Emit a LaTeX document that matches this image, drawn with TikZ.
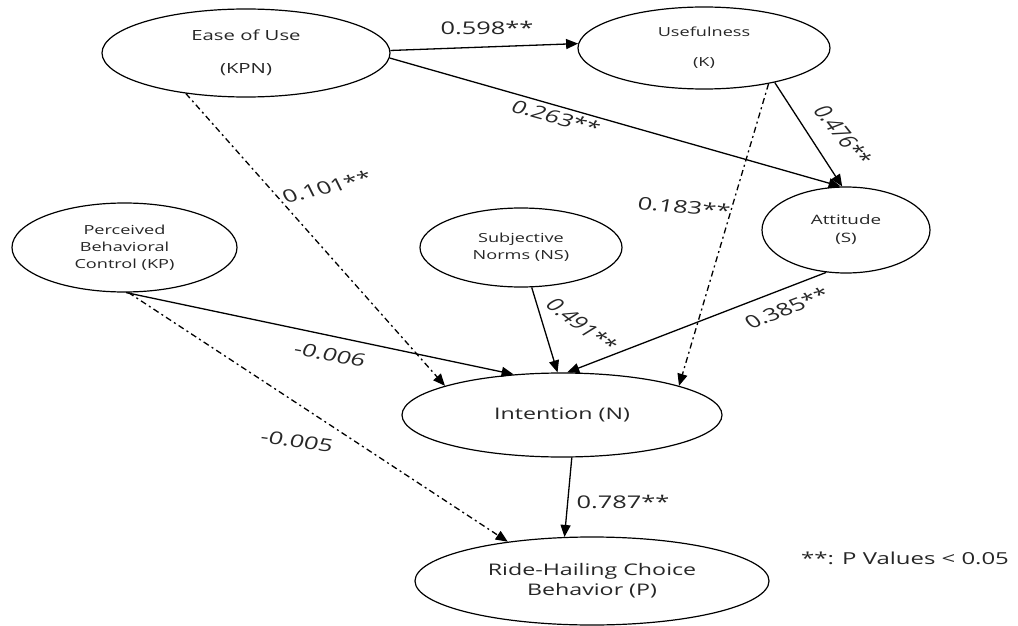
\documentclass[tikz,border=0pt]{standalone}
\usepackage{fontspec}
\setmainfont{Open Sans}[FakeStretch=1.45]
\newfontfamily\coeffont{Open Sans}
\usetikzlibrary{arrows.meta,shapes.geometric}
% path coefficient, set in the same wide print as the rest of the figure
\newcommand{\pathcoef}[4]{%
  \begin{scope}[shift={#2},xscale=1.45,rotate=#3]
    \node[coef,transform shape] (#1) at (0,0) {#4};
  \end{scope}}

\begin{document}
\begin{tikzpicture}[
    x=1pt,y=-1pt,
    construct/.style={draw,ellipse,line width=1.2pt,inner sep=0pt,align=center,text=black!85},
    coef/.style={font=\coeffont\fontsize{17.5}{20}\selectfont,text=black!85,inner sep=0pt},
    arrow/.style={-{Triangle[length=12pt,width=10pt]},line width=1.3pt},
    dotarrow/.style={arrow,dash pattern=on 6pt off 3.5pt on 2pt off 3.5pt}
  ]
    \useasboundingbox (0,0) rectangle (1018,626);
    % constructs
    \node[construct,minimum width=288pt,minimum height=88pt,font=\fontsize{14}{33}\selectfont] (ease) at (246,53) {Ease of Use\\(KPN)};
    \node[construct,minimum width=252pt,minimum height=82pt,font=\fontsize{12.5}{30}\selectfont] (use) at (704,48) {Usefulness\\(K)};
    \node[construct,minimum width=225pt,minimum height=89pt,font=\fontsize{12.5}{17}\selectfont] (perc) at (124.5,247.5) {Perceived\\Behavioral\\Control (KP)};
    \node[construct,minimum width=202pt,minimum height=79pt,font=\fontsize{12.5}{17}\selectfont] (subj) at (521,247.5) {Subjective\\Norms (NS)};
    \node[construct,minimum width=168pt,minimum height=86pt,font=\fontsize{13}{18}\selectfont] (att) at (846,230) {Attitude\\(S)};
    \node[construct,minimum width=320pt,minimum height=84pt,font=\fontsize{16}{20}\selectfont] (int) at (562,415) {Intention (N)};
    \node[construct,minimum width=354pt,minimum height=88pt,font=\fontsize{16}{20}\selectfont] (ride) at (592,581) {Ride-Hailing Choice\\Behavior (P)};
    \node[font=\fontsize{16.5}{20}\selectfont,text=black!85,inner sep=0pt] (legend) at (905,558) {**: P Values < 0.05};
    % paths
    \draw[arrow] (ease.1) -- (use.178);
    \draw[arrow] (ease.-2) -- (att.97);
    \draw[arrow] (use.-26) -- (att.95);
    \draw[dotarrow] (use.-29) -- (int.14);
    \draw[dotarrow] (ease.-146) -- (int.166);
    \draw[arrow] (perc.-88) -- (int.140);
    \draw[dotarrow] (perc.-85) -- (ride.155);
    \draw[arrow] (subj.-75) -- (int.96);
    \draw[arrow] (att.-115) -- (int.83);
    \draw[arrow] (int.-77) -- (ride.122);
    % coefficients
    \pathcoef{c598}{(487,28)}{0}{0.598**}
    \pathcoef{c263}{(556,117)}{-22}{0.263**}
    \pathcoef{c476}{(843,135)}{-61}{0.476**}
    \pathcoef{c183}{(684,207)}{-7}{0.183**}
    \pathcoef{c101}{(327,187)}{19}{0.101**}
    \pathcoef{c491}{(582,325)}{-48}{0.491**}
    \pathcoef{c385}{(787,308)}{29}{0.385**}
    \pathcoef{c006}{(330,355)}{-15}{-0.006}
    \pathcoef{c005}{(297,441)}{-11}{-0.005}
    \pathcoef{c787}{(623,502)}{0}{0.787**}
\end{tikzpicture}
\end{document}
